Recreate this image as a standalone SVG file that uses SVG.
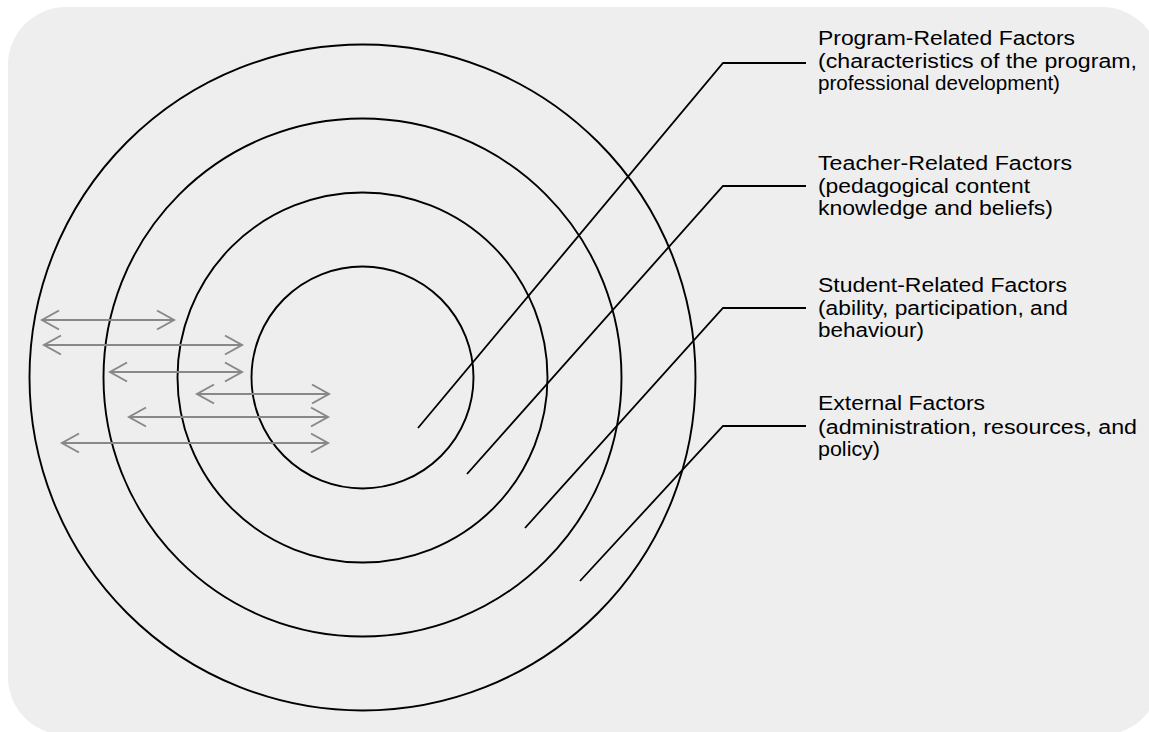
<svg xmlns="http://www.w3.org/2000/svg" width="1149" height="732" viewBox="0 0 1149 732">
  <style>
    .ring { fill: none; stroke: #000; stroke-width: 1.9; }
    .leader { fill: none; stroke: #000; stroke-width: 1.8; }
    .arr { fill: none; stroke: #888; stroke-width: 2; marker-start: url(#ah); marker-end: url(#ah); }
    .lbl { font-family: "Liberation Sans", Arial, sans-serif; font-size: 20px; fill: #000; }
  </style>
  <defs>
    <marker id="ah" markerUnits="userSpaceOnUse" viewBox="-20 -12 24 24" refX="0" refY="0" markerWidth="24" markerHeight="24" orient="auto-start-reverse">
      <path d="M-17,-9.5 L0,0 L-17,9.5" fill="none" stroke="#888" stroke-width="2"/>
    </marker>
  </defs>
  <rect x="8" y="7" width="1152" height="728" rx="58" ry="58" fill="#eeeeee"/>

  <g id="ring-external"><circle class="ring" cx="362.5" cy="377.5" r="333"/></g>
  <g id="ring-student"><circle class="ring" cx="362.5" cy="377.5" r="259"/></g>
  <g id="ring-teacher"><circle class="ring" cx="362.5" cy="377.5" r="185"/></g>
  <g id="ring-program"><circle class="ring" cx="362.5" cy="377.5" r="111"/></g>

  <g id="connectors">
    <polyline class="leader" points="418,428 723,63 806,63"/>
    <polyline class="leader" points="467,474 723,186 806,186"/>
    <polyline class="leader" points="525,528 723,308 806,308"/>
    <polyline class="leader" points="580,581 723,426 806,426"/>
    <line class="arr" x1="42" y1="320" x2="174" y2="320"/>
    <line class="arr" x1="44" y1="345" x2="242" y2="345"/>
    <line class="arr" x1="110" y1="372" x2="242" y2="372"/>
    <line class="arr" x1="197" y1="394" x2="329" y2="394"/>
    <line class="arr" x1="129" y1="417" x2="328" y2="417"/>
    <line class="arr" x1="62" y1="443" x2="328" y2="443"/>
  </g>

  <g id="label-program">
    <text class="lbl" x="818" y="45" textLength="257" lengthAdjust="spacingAndGlyphs">Program-Related Factors</text>
    <text class="lbl" x="818" y="67.5" textLength="319" lengthAdjust="spacingAndGlyphs">(characteristics of the program,</text>
    <text class="lbl" x="818" y="90" textLength="242" lengthAdjust="spacingAndGlyphs">professional development)</text>
  </g>
  <g id="label-teacher">
    <text class="lbl" x="818" y="169.5" textLength="254" lengthAdjust="spacingAndGlyphs">Teacher-Related Factors</text>
    <text class="lbl" x="818" y="192.5" textLength="212" lengthAdjust="spacingAndGlyphs">(pedagogical content</text>
    <text class="lbl" x="818" y="215" textLength="235" lengthAdjust="spacingAndGlyphs">knowledge and beliefs)</text>
  </g>
  <g id="label-student">
    <text class="lbl" x="818" y="291.5" textLength="249" lengthAdjust="spacingAndGlyphs">Student-Related Factors</text>
    <text class="lbl" x="818" y="314.5" textLength="250" lengthAdjust="spacingAndGlyphs">(ability, participation, and</text>
    <text class="lbl" x="818" y="337" textLength="106" lengthAdjust="spacingAndGlyphs">behaviour)</text>
  </g>
  <g id="label-external">
    <text class="lbl" x="818" y="410" textLength="167" lengthAdjust="spacingAndGlyphs">External Factors</text>
    <text class="lbl" x="818" y="433.5" textLength="319" lengthAdjust="spacingAndGlyphs">(administration, resources, and</text>
    <text class="lbl" x="818" y="456" textLength="62" lengthAdjust="spacingAndGlyphs">policy)</text>
  </g>
</svg>
